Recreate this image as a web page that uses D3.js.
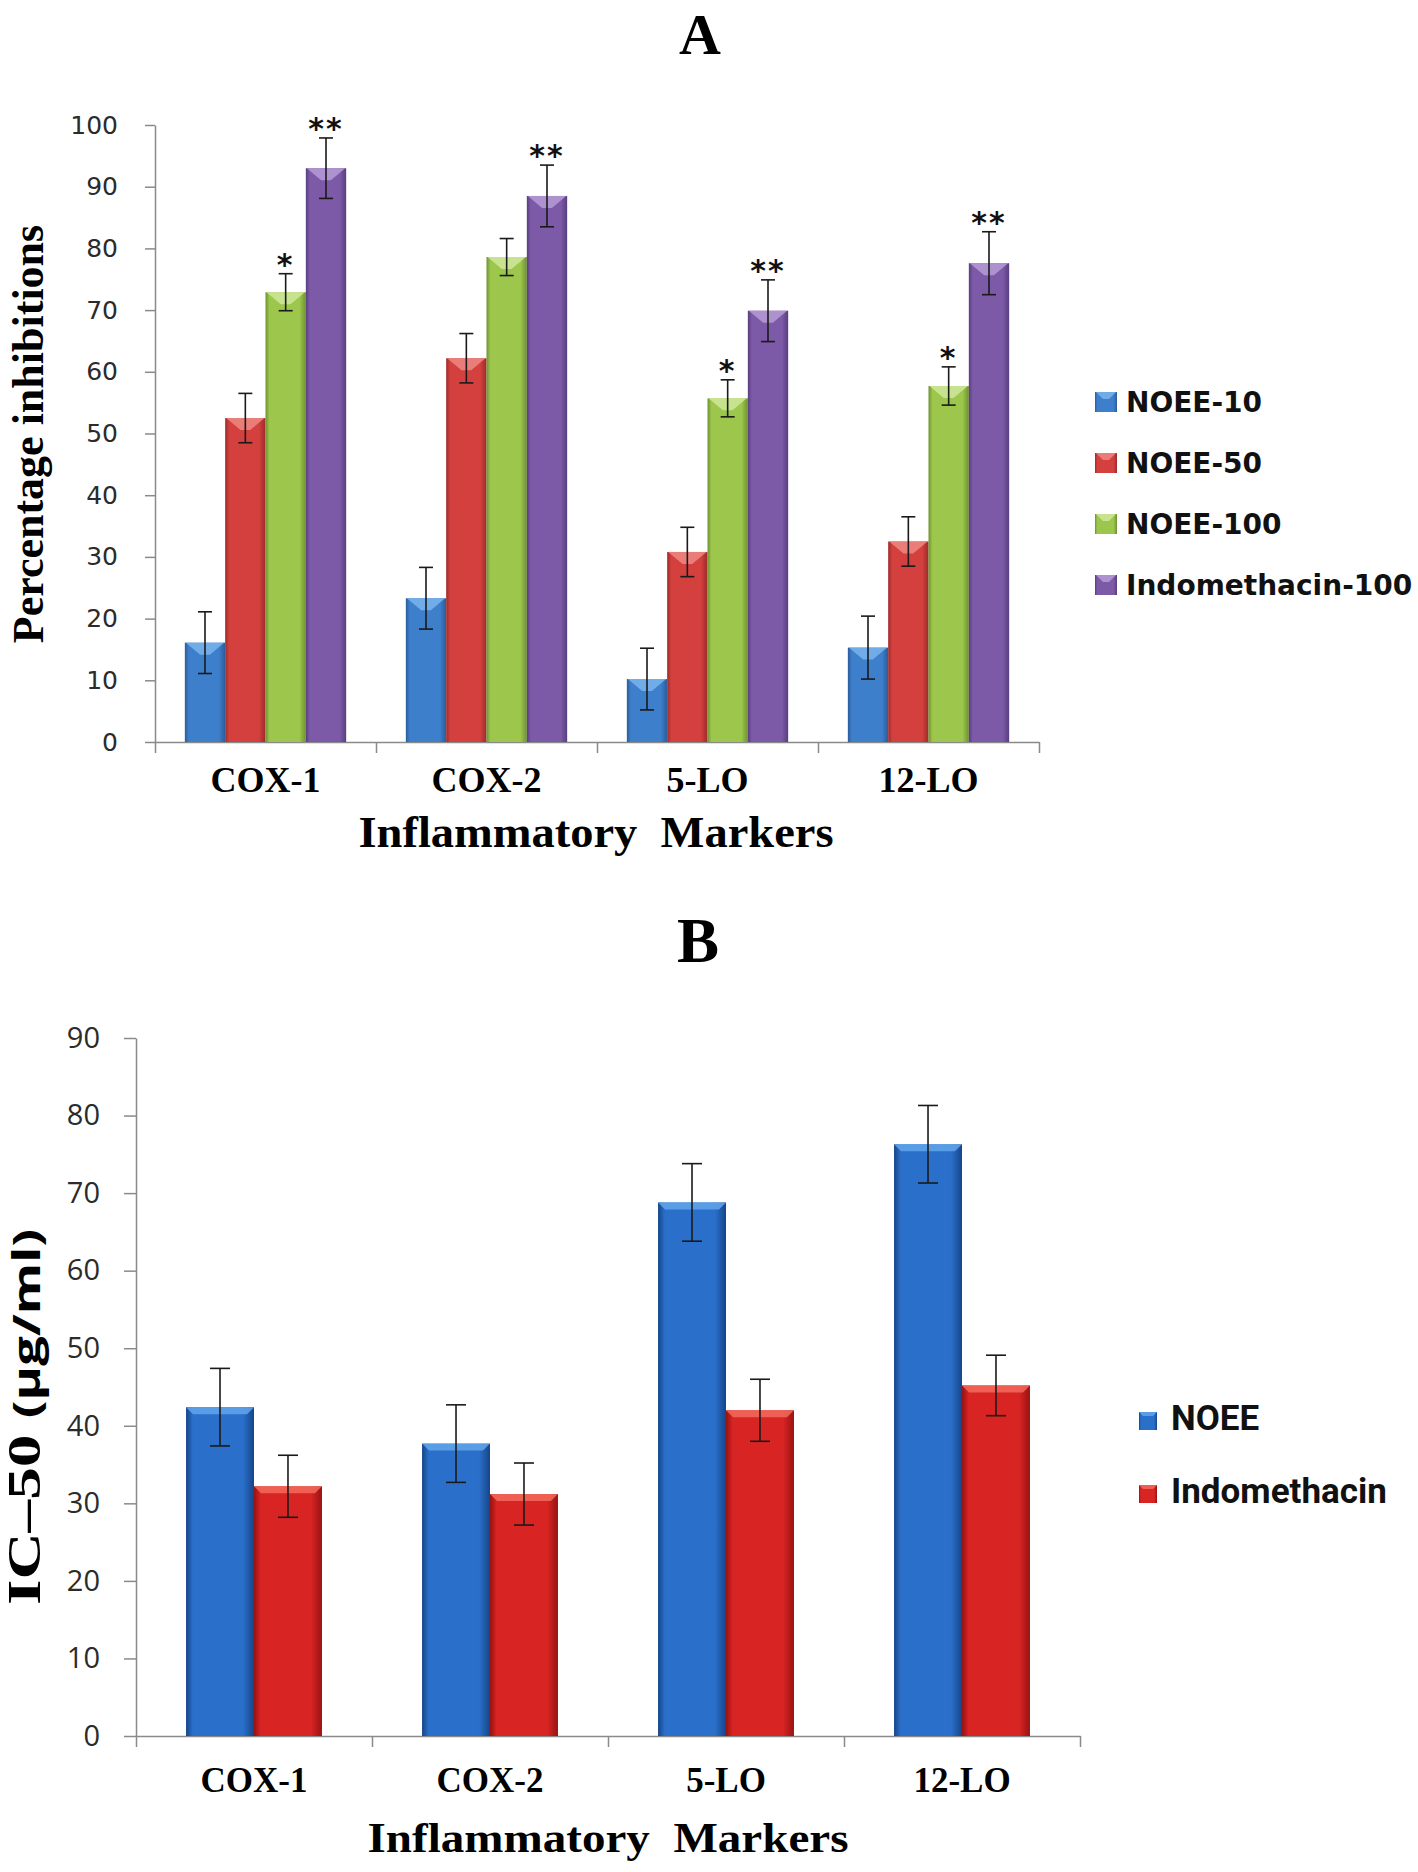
<!DOCTYPE html>
<html>
<head>
<meta charset="utf-8">
<style>
  body { margin: 0; background: #fff; }
  .axis path, .axis line { stroke: #8a8a8a; stroke-width: 1.5px; fill: none; }
  .tickA text { font-family: "DejaVu Sans"; font-size: 25px; fill: #2b2b2b; }
  .tickB text { font-family: "Open Sans"; font-size: 29px; fill: #2b2b2b; }
  .cat text { font-family: "Liberation Serif"; font-weight: bold; fill: #000; }
  .serif { font-family: "Liberation Serif"; font-weight: bold; fill: #000; }
  .err { stroke: #1a1a1a; stroke-width: 1.6px; fill: none; }
  .star { font-family: "DejaVu Sans"; font-weight: bold; font-size: 30px; fill: #111; }
</style>
</head>
<body>
<svg width="1418" height="1872"></svg>
<script src="https://cdn.jsdelivr.net/npm/d3@7"></script>
<script>
var categories = ["COX-1", "COX-2", "5-LO", "12-LO"];

// panel A - percentage inhibitions
var seriesA = ["NOEE-10", "NOEE-50", "NOEE-100", "Indomethacin-100"];
var noee10 = [16.1, 23.3, 10.2, 15.3],
    noee10Err = [5, 5, 5, 5.1];
var noee50 = [52.5, 62.2, 30.8, 32.5],
    noee50Err = [4, 4, 4, 4];
var noee100 = [72.9, 78.6, 55.7, 57.7],
    noee100Err = [3, 3, 3, 3.1];
var indo100 = [93.0, 88.5, 69.9, 77.6],
    indo100Err = [4.9, 5, 5, 5.1];
var noee100Sig = ["*", "", "*", "*"],
    indo100Sig = ["**", "**", "**", "**"];
var yTicksA = [0, 10, 20, 30, 40, 50, 60, 70, 80, 90, 100];

// panel B - IC-50
var seriesB = ["NOEE", "Indomethacin"];
var ic50Noee = [42.4, 37.7, 68.8, 76.3],
    ic50NoeeErr = [5, 5, 5, 5];
var ic50Indo = [32.2, 31.2, 42.0, 45.2],
    ic50IndoErr = [4, 4, 4, 3.9];
var yTicksB = [0, 10, 20, 30, 40, 50, 60, 70, 80, 90];

var colorsA = [
  {dark: "#2b5c9b", base: "#3e7fcb", light: "#79b4ec"},
  {dark: "#9c2b29", base: "#d3403e", light: "#ee8882"},
  {dark: "#6e9230", base: "#9dc74c", light: "#cfe79c"},
  {dark: "#583e7e", base: "#7d5aa8", light: "#b59cd6"}
];
var colorsB = [
  {dark: "#16458a", base: "#2a6fc9", light: "#63a6ec"},
  {dark: "#981212", base: "#d92424", light: "#f26a5c"}
];

var svg = d3.select("svg");
svg.append("rect").attr("width", 1418).attr("height", 1872).attr("fill", "#fff");
var defs = svg.append("defs");

function addShade(id, c) {
  var g = defs.append("linearGradient").attr("id", id)
      .attr("x1", 0).attr("y1", 0).attr("x2", 1).attr("y2", 0);
  [[0, c.dark], [0.1, c.base], [0.84, c.base], [1, c.dark]].forEach(function(s) {
    g.append("stop").attr("offset", s[0]).attr("stop-color", s[1]);
  });
}
colorsA.forEach(function(c, i) { addShade("shadeA" + i, c); });
colorsB.forEach(function(c, i) { addShade("shadeB" + i, c); });

// draws grouped bars with error bars for one panel
function drawBars(g, x, xs, y, rows, prefix, bevel, cap) {
  rows.forEach(function(s, i) {
    var pts = categories.map(function(c, j) {
      return {cat: c, v: s.values[j], e: s.errs[j], sig: s.sig ? s.sig[j] : ""};
    });
    var sg = g.append("g");
    var w = xs.bandwidth();
    sg.selectAll("rect").data(pts).enter().append("rect")
        .attr("x", function(d) { return x(d.cat) + xs(s.name); })
        .attr("y", function(d) { return y(d.v); })
        .attr("width", w)
        .attr("height", function(d) { return y(0) - y(d.v); })
        .attr("fill", "url(#" + prefix + i + ")");
    sg.selectAll("polygon").data(pts).enter().append("polygon")
        .attr("fill", s.color.light)
        .attr("opacity", 0.85)
        .attr("points", function(d) {
          var x0 = x(d.cat) + xs(s.name), t = y(d.v);
          if (bevel.type === "v") {
            return [[x0 + 1, t], [x0 + w - 1, t], [x0 + w * 0.62, t + bevel.h], [x0 + w * 0.38, t + bevel.h]].join(" ");
          }
          return [[x0, t], [x0 + w, t], [x0 + w - bevel.h, t + bevel.h], [x0 + bevel.h, t + bevel.h]].join(" ");
        });
    var eg = sg.selectAll(".eb").data(pts).enter().append("g").attr("class", "eb")
        .attr("transform", function(d) { return "translate(" + (x(d.cat) + xs(s.name) + w / 2) + ",0)"; });
    eg.append("line").attr("class", "err")
        .attr("y1", function(d) { return y(d.v + d.e); })
        .attr("y2", function(d) { return y(d.v - d.e); });
    eg.append("line").attr("class", "err")
        .attr("x1", -cap / 2).attr("x2", cap / 2)
        .attr("y1", function(d) { return y(d.v + d.e); })
        .attr("y2", function(d) { return y(d.v + d.e); });
    eg.append("line").attr("class", "err")
        .attr("x1", -cap / 2).attr("x2", cap / 2)
        .attr("y1", function(d) { return y(d.v - d.e); })
        .attr("y2", function(d) { return y(d.v - d.e); });
    eg.filter(function(d) { return d.sig; }).append("text")
        .attr("class", "star")
        .attr("text-anchor", "middle")
        .attr("letter-spacing", 2)
        .attr("y", function(d) { return y(d.v + d.e) + 1; })
        .text(function(d) { return d.sig; });
  });
}

// ---------- panel A ----------
var xA = d3.scaleBand().domain(categories).range([155, 1039]).paddingInner(0.27).paddingOuter(0.135);
var xAs = d3.scaleBand().domain(seriesA).range([0, xA.bandwidth()]);
var yA = d3.scaleLinear().domain([0, 100]).range([742, 125]);
var edgeA = d3.scaleLinear().domain([0, categories.length]).range([155, 1039]);

svg.append("text").attr("class", "serif")
    .attr("x", 700).attr("y", 54).attr("text-anchor", "middle")
    .attr("font-size", 58).text("A");

svg.append("g").attr("class", "axis tickA")
    .attr("transform", "translate(155,0)")
    .call(d3.axisLeft(yA).tickValues(yTicksA).tickSize(10).tickPadding(27).tickSizeOuter(0));

svg.append("g").attr("class", "axis")
    .attr("transform", "translate(0,742)")
    .call(d3.axisBottom(edgeA).tickValues(d3.range(categories.length + 1)).tickSize(11).tickSizeOuter(0).tickFormat(""));

var catA = svg.append("g").attr("class", "cat")
    .attr("transform", "translate(0,742)")
    .call(d3.axisBottom(xA).tickSize(0));
catA.select(".domain").remove();
catA.selectAll("text").attr("y", 50).attr("dy", 0).attr("font-size", 36);

var rowsA = [
  {name: seriesA[0], values: noee10, errs: noee10Err, color: colorsA[0]},
  {name: seriesA[1], values: noee50, errs: noee50Err, color: colorsA[1]},
  {name: seriesA[2], values: noee100, errs: noee100Err, sig: noee100Sig, color: colorsA[2]},
  {name: seriesA[3], values: indo100, errs: indo100Err, sig: indo100Sig, color: colorsA[3]}
];
drawBars(svg.append("g"), xA, xAs, yA, rowsA, "shadeA", {type: "v", h: 12}, 14);

svg.append("text").attr("class", "serif")
    .attr("transform", "translate(43,434) rotate(-90)")
    .attr("text-anchor", "middle").attr("font-size", 44)
    .text("Percentage inhibitions");

svg.append("text").attr("class", "serif")
    .attr("x", 596).attr("y", 847).attr("text-anchor", "middle")
    .attr("font-size", 44).style("white-space", "pre")
    .attr("textLength", 475).attr("lengthAdjust", "spacingAndGlyphs")
    .text("Inflammatory  Markers");

var legA = svg.append("g").selectAll("g").data(rowsA).enter().append("g")
    .attr("transform", function(d, i) { return "translate(1095," + (412 + i * 61) + ")"; });
legA.append("rect").attr("y", -20).attr("width", 22).attr("height", 20)
    .attr("fill", function(d, i) { return "url(#shadeA" + i + ")"; });
legA.append("polygon").attr("opacity", 0.85)
    .attr("fill", function(d) { return d.color.light; })
    .attr("points", "1,-20 21,-20 14,-13 8,-13");
legA.append("text").attr("x", 31)
    .attr("font-family", "DejaVu Sans").attr("font-weight", "bold").attr("font-size", 28)
    .attr("fill", "#111")
    .text(function(d) { return d.name; });

// ---------- panel B ----------
var xB = d3.scaleBand().domain(categories).range([136, 1080]).paddingInner(0.424).paddingOuter(0.212);
var xBs = d3.scaleBand().domain(seriesB).range([0, xB.bandwidth()]);
var yB = d3.scaleLinear().domain([0, 90]).range([1736, 1038]);
var edgeB = d3.scaleLinear().domain([0, categories.length]).range([136, 1080]);

svg.append("text").attr("class", "serif")
    .attr("x", 698).attr("y", 962).attr("text-anchor", "middle")
    .attr("font-size", 63).text("B");

svg.append("g").attr("class", "axis tickB")
    .attr("transform", "translate(136,0)")
    .call(d3.axisLeft(yB).tickValues(yTicksB).tickSize(12).tickPadding(24).tickSizeOuter(0));

svg.append("g").attr("class", "axis")
    .attr("transform", "translate(0,1736)")
    .call(d3.axisBottom(edgeB).tickValues(d3.range(categories.length + 1)).tickSize(11).tickSizeOuter(0).tickFormat(""));

var catB = svg.append("g").attr("class", "cat")
    .attr("transform", "translate(0,1736)")
    .call(d3.axisBottom(xB).tickSize(0));
catB.select(".domain").remove();
catB.selectAll("text").attr("y", 56).attr("dy", 0).attr("font-size", 35);

var rowsB = [
  {name: seriesB[0], values: ic50Noee, errs: ic50NoeeErr, color: colorsB[0]},
  {name: seriesB[1], values: ic50Indo, errs: ic50IndoErr, color: colorsB[1]}
];
drawBars(svg.append("g"), xB, xBs, yB, rowsB, "shadeB", {type: "flat", h: 7}, 20);

var ylabB = svg.append("text").attr("class", "serif")
    .attr("transform", "translate(40,1417) rotate(-90)")
    .attr("text-anchor", "middle")
    .attr("textLength", 376).attr("lengthAdjust", "spacingAndGlyphs");
ylabB.append("tspan").attr("font-size", 46).text("IC\u201350 ");
ylabB.append("tspan").attr("font-family", "Open Sans").attr("font-size", 37).text("(\u00b5g/ml)");

svg.append("text").attr("class", "serif")
    .attr("x", 608).attr("y", 1852).attr("text-anchor", "middle")
    .attr("font-size", 42).style("white-space", "pre")
    .attr("textLength", 481).attr("lengthAdjust", "spacingAndGlyphs")
    .text("Inflammatory  Markers");

var legB = svg.append("g").selectAll("g").data(rowsB).enter().append("g")
    .attr("transform", function(d, i) { return "translate(1139," + (1430 + i * 73) + ")"; });
legB.append("rect").attr("y", -18).attr("width", 18).attr("height", 18)
    .attr("fill", function(d, i) { return "url(#shadeB" + i + ")"; });
legB.append("polygon").attr("opacity", 0.85)
    .attr("fill", function(d) { return d.color.light; })
    .attr("points", "0,-18 18,-18 14,-14 4,-14");
legB.append("text").attr("x", 32)
    .attr("font-family", "Roboto").attr("font-weight", "bold").attr("font-size", 35)
    .attr("fill", "#111")
    .text(function(d) { return d.name; });
</script>
</body>
</html>
